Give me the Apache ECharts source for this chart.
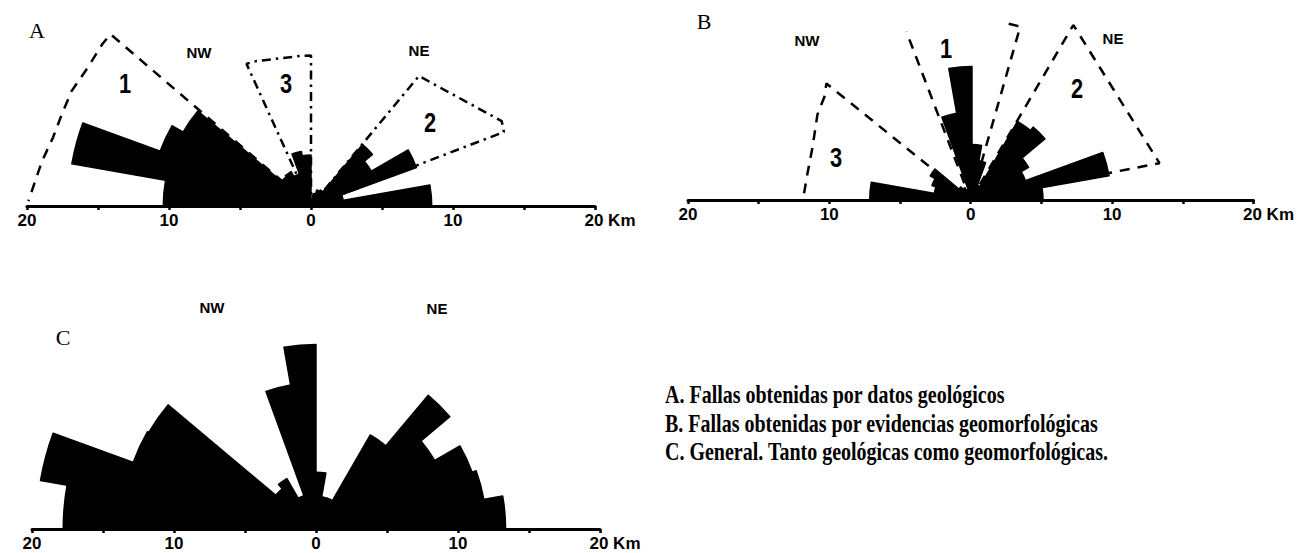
<!DOCTYPE html>
<html lang="es">
<head>
<meta charset="utf-8">
<title>Rosetas de fallas</title>
<script src="https://cdn.jsdelivr.net/npm/echarts@6/dist/echarts.min.js"></script>
<style>
  html, body { margin: 0; padding: 0; background: #fff; }
  #chart { width: 1297px; height: 553px; }
</style>
</head>
<body>
<div id="chart"></div>
<script>
// Longitud acumulada de fallas (km) por clase de rumbo de 10 grados.
// NE: N0-10E ... N80-90E ; NW: N270-280 ... N350-360 (de W hacia N)
const geoNE   = [0.4, 0.9, 1.2, 1.3, 5.65, 4.9, 7.9, 2.3, 8.5];
const geoNW   = [10.4, 17.1, 11.3, 10.4, 2.7, 2.8, 2.4, 3.9, 3.6];
const morphNE = [3.9, 2.8, 1.1, 6.4, 6.7, 4.6, 4.0, 9.8, 5.0];
const morphNW = [7.2, 2.7, 3.0, 3.4, 1.2, 1.0, 0.8, 6.2, 9.4];
const allNE   = [4.0, 2.3, 2.3, 7.65, 12.3, 9.65, 11.7, 12.0, 13.35];
const allNW   = [17.8, 19.7, 13.7, 13.6, 3.7, 4.1, 2.5, 10.3, 13.0];

// Escala de distancia sobre la línea base
const tickValues = [-20, -10, 0, 10, 20];
const tickLabels = ['20', '10', '0', '10', '20'];
const distUnit = 'Km';

// Contornos de las familias de fallas: [azimut (grados), distancia (km)]
const geoFamily1 = [[310.6, 0], [310.6, 18.6], [307.9, 18.6], [301.7, 18.5], [295.7, 18.7],
                    [290.3, 18.7], [284.8, 18.8], [279.5, 19.2], [275.2, 19.5], [271, 19.9]];
const geoFamily2 = [[39.7, 0], [39.7, 11.9], [66, 14.7], [69, 14.55], [69, 0]];
const geoFamily3 = [[335.6, 0], [335.6, 11.0], [339.5, 10.9], [356.6, 10.6], [0, 10.6], [0, 0]];
const morphFamily1W = [[339, 0], [339, 12.7]];
const morphFamily1E = [[12.2, 12.7], [16, 12.7], [16, 0]];
const morphFamily2 = [[30.5, 0], [30.5, 14.3], [79, 13.6], [79.5, 0]];
const morphFamily3 = [[308.8, 0], [308.8, 13.1], [305.1, 12.65], [299, 12.4], [288.6, 11.8],
                      [279.3, 11.7], [272.3, 11.8]];

const legendLines = [
  'A. Fallas obtenidas por datos geológicos',
  'B. Fallas obtenidas por evidencias geomorfológicas',
  'C. General. Tanto geológicas como geomorfológicas.'
];

const DASH = [10, 8];
const DASH_DOT = [9, 5, 2.5, 5];

// Layout of the three half-roses (origin in px, radius for 20 km)
const R = 284;
const panels = [
  { cx: 311, cy: 206, ne: geoNE, nw: geoNW, letter: 'A',
    outlines: [[geoFamily1, DASH], [geoFamily2, DASH_DOT], [geoFamily3, DASH_DOT]],
    texts: [['A', 37, 30, 'letter'], ['NW', 199, 52, 'dir'], ['NE', 419, 50, 'dir'],
            ['1', 125, 83, 'num'], ['3', 286, 83, 'num'], ['2', 430, 122, 'num']] },
  { cx: 972, cy: 200, ne: morphNE, nw: morphNW, letter: 'B',
    outlines: [[morphFamily1W, DASH], [morphFamily1E, DASH], [morphFamily2, DASH], [morphFamily3, DASH]],
    texts: [['B', 704, 21, 'letter'], ['NW', 807, 40, 'dir'], ['NE', 1113, 38, 'dir'],
            ['1', 946, 48, 'num'], ['2', 1077, 88, 'num'], ['3', 836, 157, 'num']] },
  { cx: 316, cy: 529, ne: allNE, nw: allNW, letter: 'C',
    outlines: [],
    texts: [['C', 63, 337, 'letter'], ['NW', 212, 307, 'dir'], ['NE', 437, 308, 'dir']] }
];

const angleCats = Array.from({ length: 36 }, (_, i) => 'N' + (i * 10));

function fullCircle(ne, nw) {
  const out = new Array(36).fill('-');
  ne.forEach((v, i) => { out[i] = v; });
  nw.forEach((v, i) => { out[27 + i] = v; });
  return out;
}

function toXY(p) {
  const a = p[0] * Math.PI / 180;
  return [p[1] * Math.sin(a), p[1] * Math.cos(a)];
}

const textStyles = {
  letter: { style: { fontFamily: "'Liberation Serif', serif", fontSize: 22, fontWeight: 'normal' }, sx: 1 },
  dir:    { style: { fontFamily: "'Liberation Sans', sans-serif", fontSize: 15, fontWeight: 'bold' }, sx: 1 },
  num:    { style: { fontFamily: "'Liberation Sans', sans-serif", fontSize: 28, fontWeight: 'bold' }, sx: 0.78 }
};

const labelFont = { fontFamily: "'Liberation Sans', sans-serif", fontWeight: 'bold', fontSize: 17, color: '#000' };

const option = {
  backgroundColor: '#fff',
  animation: false,
  polar: panels.map(p => ({ center: [p.cx, p.cy], radius: R })),
  angleAxis: panels.map((p, i) => ({
    polarIndex: i, type: 'category', data: angleCats, startAngle: 90, clockwise: true,
    boundaryGap: true,
    axisLine: { show: false }, axisTick: { show: false }, axisLabel: { show: false },
    splitLine: { show: false }
  })),
  radiusAxis: panels.map((p, i) => ({
    polarIndex: i, type: 'value', min: 0, max: 20,
    axisLine: { show: false }, axisTick: { show: false }, axisLabel: { show: false },
    splitLine: { show: false }
  })),
  grid: panels.map(p => ({ left: p.cx - R, width: 2 * R, top: p.cy - R * 0.7, height: R * 0.7 })),
  xAxis: panels.map((p, i) => ({
    gridIndex: i, type: 'value', min: -20, max: 20, interval: 5, position: 'bottom',
    axisLine: { show: true, onZero: false, lineStyle: { color: '#000', width: 3 } },
    axisTick: { show: true, length: 4, lineStyle: { color: '#000', width: 2.5 } },
    splitLine: { show: false },
    axisLabel: Object.assign({
      margin: 6,
      formatter: v => {
        const k = tickValues.indexOf(v);
        if (k < 0) return '';
        if (v === 20) return '{p|\u00a0}' + tickLabels[k] + '{u|\u00a0' + distUnit + '}';
        return tickLabels[k];
      },
      rich: {
        p: Object.assign({ width: 30 }, labelFont),
        u: Object.assign({}, labelFont)
      }
    }, labelFont)
  })),
  yAxis: panels.map((p, i) => ({ gridIndex: i, type: 'value', min: 0, max: 14, show: false })),
  series: [],
  graphic: []
};

panels.forEach((p, i) => {
  option.series.push({
    type: 'bar', coordinateSystem: 'polar', polarIndex: i, name: p.letter,
    data: fullCircle(p.ne, p.nw), barCategoryGap: '0%', barGap: '0%',
    itemStyle: { color: '#000', borderColor: '#000', borderWidth: 1.5, borderJoin: 'round' },
    silent: true, z: 3
  });
  p.outlines.forEach(([pts, dash]) => {
    option.series.push({
      type: 'line', xAxisIndex: i, yAxisIndex: i, data: pts.map(toXY),
      symbol: 'none', clip: false, silent: true, z: 1,
      lineStyle: { color: '#000', width: 2.5, type: dash }
    });
  });
  p.texts.forEach(([t, x, y, kind]) => {
    const ts = textStyles[kind];
    option.graphic.push({
      type: 'text', x: x, y: y, scaleX: ts.sx, z: 10, silent: true,
      style: Object.assign({ text: t, fill: '#000', align: 'center', verticalAlign: 'middle' }, ts.style)
    });
  });
});

// Leyenda de los paneles
legendLines.forEach((t, i) => {
  option.graphic.push({
    type: 'text', x: 665, y: 395 + i * 28.5, scaleX: 0.8, z: 10, silent: true,
    style: { text: t, fill: '#000', align: 'left', verticalAlign: 'middle',
             fontFamily: "'Liberation Serif', serif", fontSize: 25, fontWeight: 'bold' }
  });
});

const chart = echarts.init(document.getElementById('chart'), null, { renderer: 'svg' });
chart.setOption(option);
</script>
</body>
</html>
